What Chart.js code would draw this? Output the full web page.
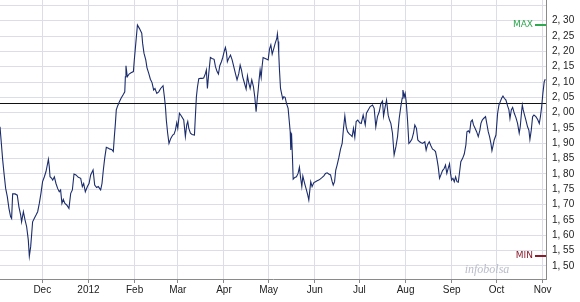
<!DOCTYPE html>
<html lang="es">
<head>
<meta charset="UTF-8" />
<title>Cotización 1 año</title>
<style>
  body { margin: 0; background: #fff; }
  #wrap { width: 580px; height: 302px; }
</style>
</head>
<body>
<div id="wrap"><canvas id="chart" width="580" height="302"></canvas></div>
<script src="https://cdn.jsdelivr.net/npm/chart.js"></script>
<script>
  // x = days counted from 1 Dec 2011
  const days = [
    -28.4, -26.6, -25.7, -24.6, -23.5, -22.4, -21.3, -20.6, -19.9, -18.3, -16.8, -15.7, -14.5, -13.9, -12.7, -11.6,
    -10.5, -9.4, -8.7, -7.8, -7.1, -6.5, -5.4, -4.2, -3.1, -2.0, -0.9, 0.2, 1.4, 2.5, 3.6, 4.1, 4.7, 5.2, 6.3, 7.0,
    8.1, 9.2, 10.3, 11.4, 12.3, 13.2, 14.1, 15.2, 16.4, 17.9, 19.1, 20.2, 21.3, 22.6, 24.2, 25.8, 26.9, 27.8, 28.9,
    30.3, 31.4, 32.5, 34.1, 35.2, 36.5, 37.6, 39.2, 40.1, 41.0, 41.9, 43.0, 44.4, 45.5, 46.6, 47.7, 48.4, 49.1, 49.7,
    50.6, 51.8, 52.9, 54.5, 55.4, 55.8, 56.2, 57.1, 58.3, 59.6, 61.2, 61.8, 62.3, 63.2, 63.9, 65.2, 66.8, 67.4, 68.3,
    69.5, 70.3, 71.5, 72.6, 73.7, 74.8, 75.7, 76.9, 78.2, 79.5, 81.1, 82.0, 82.7, 83.3, 84.2, 85.1, 86.3, 87.6, 88.5,
    89.4, 90.3, 91.0, 92.1, 93.4,
    95.0, 96.1, 97.0, 97.7, 98.4, 99.5, 100.6, 102.2, 102.8, 103.5, 104.2, 105.1, 106.2, 107.3, 108.4, 109.6, 110.2,
    110.9, 111.8, 112.9, 114.0, 115.4, 116.3, 117.4, 118.3, 119.2, 120.3, 121.2, 122.3, 123.0, 123.7, 124.3, 125.2,
    126.4, 127.5, 128.6, 129.7, 130.8, 132.0, 132.9, 133.8, 134.6, 135.8, 136.9, 137.8, 138.7, 139.6, 140.7, 141.8,
    142.7, 143.6, 144.3, 145.0, 145.6, 146.3, 147.0, 147.6, 148.3, 149.7, 150.8, 151.7, 152.6, 153.5, 154.4, 155.5,
    156.4, 157.5, 157.9, 158.4, 158.8, 159.3, 160.0, 160.9, 161.5, 162.2, 163.1, 164.0, 165.1, 165.8, 166.5, 166.9,
    167.4, 168.0, 168.5, 169.6, 170.7, 171.8, 172.7, 173.4, 174.3, 175.0, 175.9, 176.5, 177.4, 178.3, 179.0, 179.7,
    180.3, 181.2, 182.4, 183.5, 184.6, 185.7, 186.8, 188.0, 189.1, 190.2, 191.3, 192.4, 193.6, 194.7, 195.4, 196.3,
    197.1, 198.0, 199.2, 200.3, 201.4, 202.3, 203.2, 204.1, 205.0, 206.3, 207.2, 208.1, 209.0, 209.9, 210.8, 211.9,
    213.1, 214.2, 215.5,
    216.9, 217.7, 218.9, 220.2, 221.8, 222.9, 224.0, 225.1, 226.3, 227.4, 228.5, 229.2, 230.3, 231.2, 232.3, 233.2,
    234.1, 235.2, 236.3, 237.5, 238.6, 239.7, 240.8, 241.7, 242.2, 243.1, 243.7, 244.4, 245.3, 246.2, 247.1, 248.2,
    249.3, 250.2, 251.3, 252.2, 253.4, 254.5, 255.4, 256.9, 257.8, 258.7, 259.9, 261.0, 262.1, 263.2, 264.1, 265.0,
    265.9, 266.8, 267.7, 268.8, 269.9, 270.8, 271.7, 272.6, 273.5, 274.2, 274.9, 275.8, 276.7, 277.6, 278.5, 279.4,
    280.2, 281.1, 282.3, 283.4, 284.5, 285.2, 286.1, 287.0, 287.9, 288.8, 289.6, 290.5, 291.7, 292.8, 293.9, 294.6,
    295.5, 296.4, 297.7, 298.6, 299.5, 300.4, 301.3, 302.0, 302.6, 303.5, 304.7, 305.8, 306.7, 307.6, 308.5, 309.4,
    310.3, 311.4, 312.5, 313.4, 314.1, 315.0, 315.9, 317.0, 318.1, 319.2, 320.3, 321.0, 321.9, 322.4, 323.0, 323.9,
    324.8, 325.9, 326.8, 327.5, 328.4, 329.3, 330.2, 331.5, 332.7, 333.8, 334.5, 335.4, 336.2, 337.1, 337.8
  ];
  const price = [
    1.954, 1.846, 1.802, 1.753, 1.726, 1.688, 1.661, 1.655, 1.735, 1.735, 1.731, 1.693, 1.666, 1.644, 1.677, 1.650,
    1.628, 1.585, 1.532, 1.563, 1.606, 1.644, 1.655, 1.666, 1.677, 1.704, 1.737, 1.775, 1.791, 1.808, 1.835, 1.848,
    1.824, 1.791, 1.786, 1.780, 1.791, 1.769, 1.753, 1.742, 1.748, 1.704, 1.717, 1.704, 1.699, 1.688, 1.737, 1.748,
    1.800, 1.797, 1.789, 1.786, 1.759, 1.769, 1.742, 1.759, 1.769, 1.797, 1.813, 1.764, 1.756, 1.759, 1.748, 1.769,
    1.813, 1.851, 1.887, 1.884, 1.881, 1.880, 1.873, 1.922, 1.965, 2.009, 2.022, 2.036, 2.047, 2.060, 2.068, 2.117,
    2.153, 2.117, 2.126, 2.130, 2.134, 2.172, 2.199, 2.248, 2.286, 2.275, 2.259, 2.226, 2.194, 2.172, 2.147, 2.128,
    2.109, 2.098, 2.074, 2.079, 2.063, 2.068, 2.079, 2.088, 2.052, 2.020, 1.976, 1.933, 1.900, 1.916, 1.927, 1.930,
    1.943, 1.967, 1.949, 1.998, 1.989,
    1.976, 1.922, 1.960, 1.971, 1.949, 1.933, 1.929, 1.927, 1.987, 2.052, 2.083, 2.111, 2.112, 2.112, 2.113, 2.128,
    2.139, 2.079, 2.128, 2.180, 2.177, 2.174, 2.150, 2.134, 2.126, 2.153, 2.166, 2.180, 2.202, 2.213, 2.196, 2.166,
    2.177, 2.188, 2.172, 2.150, 2.128, 2.107, 2.128, 2.155, 2.139, 2.117, 2.096, 2.077, 2.120, 2.096, 2.079, 2.107,
    2.085, 2.052, 2.003, 2.041, 2.074, 2.107, 2.139, 2.115, 2.150, 2.180, 2.177, 2.174, 2.172, 2.207, 2.221, 2.191,
    2.210, 2.226, 2.242, 2.257, 2.232, 2.194, 2.139, 2.079, 2.058, 2.045, 2.052, 2.050, 2.030, 2.014, 1.976, 1.938,
    1.878, 1.933, 1.857, 1.783, 1.789, 1.791, 1.802, 1.822, 1.791, 1.759, 1.793, 1.775, 1.764, 1.748, 1.731, 1.715,
    1.748, 1.775, 1.759, 1.772, 1.775, 1.778, 1.780, 1.784, 1.789, 1.794, 1.802, 1.804, 1.800, 1.797, 1.775, 1.764,
    1.775, 1.813, 1.829, 1.854, 1.881, 1.900, 1.949, 1.990, 1.954, 1.938, 1.930, 1.927, 1.922, 1.949, 1.920, 1.971,
    1.976, 1.967, 1.965, 1.992,
    1.960, 1.998, 2.009, 2.020, 2.025, 2.014, 1.954, 1.987, 2.003, 2.030, 2.038, 1.989, 2.020, 2.041, 1.992, 1.976,
    1.965, 1.933, 1.862, 1.889, 1.922, 1.981, 2.020, 2.047, 2.074, 2.052, 2.063, 2.036, 1.976, 1.900, 1.905, 1.913,
    1.933, 1.960, 1.949, 1.911, 1.905, 1.902, 1.900, 1.905, 1.878, 1.895, 1.905, 1.892, 1.881, 1.878, 1.873, 1.851,
    1.824, 1.786, 1.797, 1.811, 1.818, 1.829, 1.802, 1.818, 1.833, 1.802, 1.780, 1.786, 1.775, 1.791, 1.775, 1.773,
    1.804, 1.840, 1.851, 1.865, 1.895, 1.938, 1.941, 1.935, 1.971, 1.976, 1.960, 1.951, 1.938, 1.922, 1.943, 1.965,
    1.976, 1.981, 1.987, 1.963, 1.938, 1.922, 1.900, 1.876, 1.889, 1.911, 1.927, 1.998, 2.025, 2.036, 2.047, 2.054,
    2.047, 2.041, 2.022, 2.009, 1.981, 2.009, 2.017, 1.998, 1.984, 1.965, 1.933, 1.954, 2.003, 2.025, 2.009, 1.992,
    1.976, 1.954, 1.943, 1.913, 1.943, 1.987, 1.992, 1.987, 1.978, 1.965, 1.985, 2.020, 2.063, 2.101, 2.109
  ];

  const monthTicks = [0, 31, 62, 91, 122, 152, 183, 213, 244, 275, 305, 336];
  const monthLabels = ['Dec', '2012', 'Feb', 'Mar', 'Apr', 'May', 'Jun', 'Jul', 'Aug', 'Sep', 'Oct', 'Nov'];
  const yTicks = [1.50, 1.55, 1.60, 1.65, 1.70, 1.75, 1.80, 1.85, 1.90, 1.95, 2.00, 2.05, 2.10, 2.15, 2.20, 2.25, 2.30, 2.35];
  const refLevel = 2.03;

  const points = days.map((d, i) => ({ x: d, y: price[i] }));
  const maxPrice = Math.max(...price);
  const minPrice = Math.min(...price);

  const extras = {
    id: 'extras',
    beforeDatasetsDraw(chart) {
      const { ctx, chartArea, scales } = chart;
      const y = Math.round(scales.y.getPixelForValue(refLevel)) + 0.5;
      ctx.save();
      ctx.strokeStyle = '#111';
      ctx.lineWidth = 1;
      ctx.beginPath();
      ctx.moveTo(chartArea.left, y);
      ctx.lineTo(chartArea.right, y);
      ctx.stroke();
      // watermark
      ctx.font = 'italic 12px "Liberation Serif"';
      ctx.fillStyle = '#b9bccb';
      ctx.textAlign = 'center';
      ctx.textBaseline = 'middle';
      ctx.fillText('infobolsa', chartArea.right - 59, chartArea.bottom - 9);
      ctx.restore();
    },
    afterDraw(chart) {
      const { ctx, chartArea, scales } = chart;
      const marks = [
        { v: maxPrice, text: 'MAX', color: '#2fa84f' },
        { v: minPrice, text: 'MIN', color: '#8c1c2c' }
      ];
      ctx.save();
      ctx.font = '9px "DejaVu Sans"';
      ctx.textAlign = 'right';
      ctx.textBaseline = 'middle';
      marks.forEach(m => {
        const y = Math.round(scales.y.getPixelForValue(m.v));
        ctx.fillStyle = m.color;
        ctx.fillRect(chartArea.right - 11, y - 1, 11, 2);
        ctx.fillText(m.text, chartArea.right - 13, y);
      });
      ctx.restore();
    }
  };

  new Chart(document.getElementById('chart'), {
    type: 'line',
    data: {
      datasets: [{
        data: points,
        borderColor: '#1b2c6c',
        borderWidth: 1.1,
        pointRadius: 0,
        tension: 0,
        fill: false
      }]
    },
    options: {
      responsive: false,
      animation: false,
      devicePixelRatio: 1,
      layout: { padding: 0 },
      plugins: { legend: { display: false }, tooltip: { enabled: false } },
      scales: {
        x: {
          type: 'linear',
          min: -28.4,
          max: 338.3,
          afterBuildTicks: axis => { axis.ticks = monthTicks.map(v => ({ value: v })); },
          afterFit: s => { s.height = 23; s.paddingLeft = 0; s.paddingRight = 0; },
          ticks: {
            autoSkip: false,
            maxRotation: 0,
            padding: 1,
            color: '#222',
            font: { family: 'Liberation Sans', size: 10 },
            callback: (v, i) => monthLabels[i]
          },
          grid: { color: '#dcdde6', tickColor: '#888', tickLength: 4 },
          border: { color: '#8a8a8a' }
        },
        y: {
          position: 'right',
          min: 1.4575,
          max: 2.3675,
          afterBuildTicks: axis => { axis.ticks = yTicks.map(v => ({ value: v })); },
          afterFit: s => { s.width = 34; s.paddingTop = 0; s.paddingBottom = 0; },
          ticks: {
            padding: 6,
            color: '#222',
            font: { family: 'Liberation Sans', size: 10 },
            callback: v => (v > 2.31 ? '' : v.toFixed(2).replace('.', ', '))
          },
          grid: { color: '#dcdde6', drawTicks: false },
          border: { color: '#8a8a8a' }
        }
      }
    },
    plugins: [extras]
  });
</script>
</body>
</html>
